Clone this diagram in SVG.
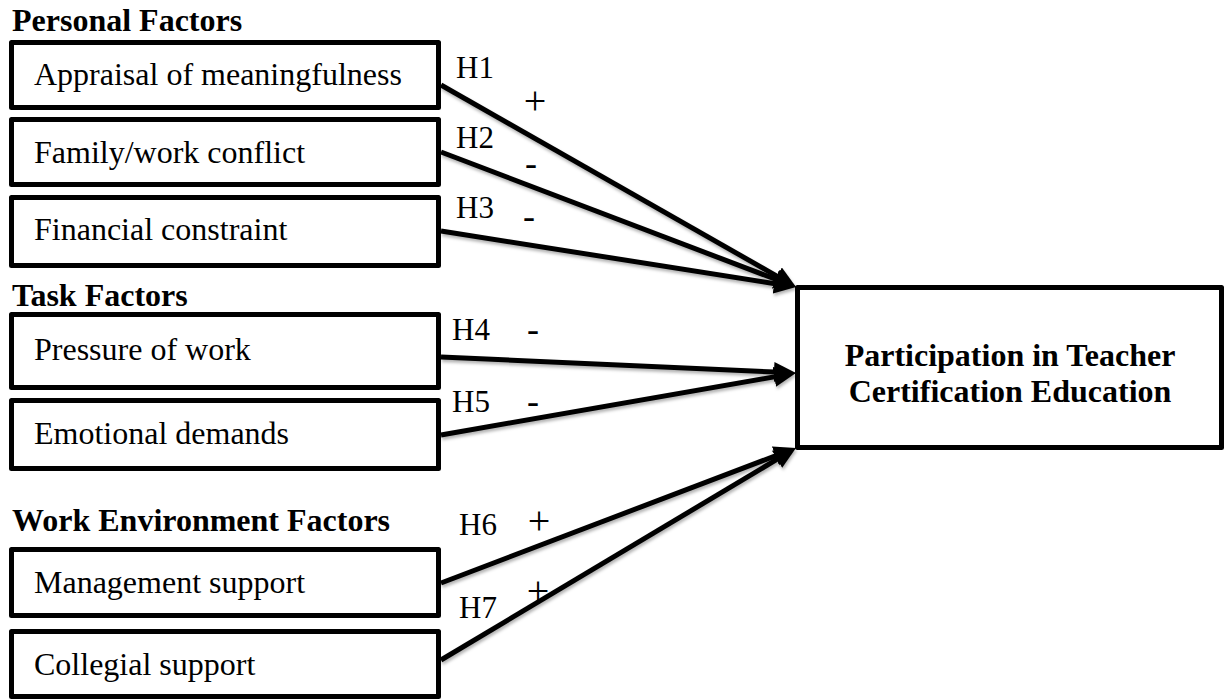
<svg xmlns="http://www.w3.org/2000/svg" width="1225" height="700" viewBox="0 0 1225 700">
  <style>
    text { font-family: "Liberation Serif", "Times New Roman", serif; fill: #000; }
    .head { font-size: 32px; font-weight: bold; }
    .label { font-size: 32px; }
    .hyp { font-size: 31px; }
    .plus { font-size: 40px; text-anchor: middle; }
    .minus { font-size: 36px; text-anchor: middle; }
    .outcome { font-size: 32px; font-weight: bold; text-anchor: middle; }
    .box { fill: #fff; stroke: #000; stroke-width: 5; stroke-linejoin: round; }
    .link { fill: none; stroke: #000; stroke-width: 5; marker-end: url(#arrow); }
  </style>
  <defs>
    <marker id="arrow" markerUnits="userSpaceOnUse" markerWidth="24" markerHeight="22" refX="7" refY="10" orient="auto">
      <path d="M0,0 L22,10 L0,20 z" fill="#000"/>
    </marker>
    <filter id="soft" x="-10%" y="-10%" width="120%" height="130%">
      <feDropShadow dx="1" dy="2.5" stdDeviation="1.6" flood-color="#000" flood-opacity="0.3"/>
    </filter>
  </defs>

  <rect width="1225" height="700" fill="#fff"/>

  <!-- group headings -->
  <text class="head" x="12" y="31">Personal Factors</text>
  <text class="head" x="12" y="306">Task Factors</text>
  <text class="head" x="12" y="531">Work Environment Factors</text>

  <!-- predictor boxes -->
  <g id="appraisal">
    <rect class="box" x="11.5" y="42.5" width="427" height="65"/>
    <text class="label" x="34" y="85">Appraisal of meaningfulness</text>
  </g>
  <g id="family-work">
    <rect class="box" x="11.5" y="119.5" width="427" height="65"/>
    <text class="label" x="34" y="163">Family/work conflict</text>
  </g>
  <g id="financial">
    <rect class="box" x="11.5" y="197.5" width="427" height="68"/>
    <text class="label" x="34" y="240">Financial constraint</text>
  </g>
  <g id="pressure">
    <rect class="box" x="11.5" y="314.5" width="427" height="73"/>
    <text class="label" x="34" y="360">Pressure of work</text>
  </g>
  <g id="emotional">
    <rect class="box" x="11.5" y="400.5" width="427" height="68"/>
    <text class="label" x="34" y="444">Emotional demands</text>
  </g>
  <g id="management">
    <rect class="box" x="11.5" y="549.5" width="427" height="66"/>
    <text class="label" x="34" y="593">Management support</text>
  </g>
  <g id="collegial">
    <rect class="box" x="11.5" y="631.5" width="427" height="65"/>
    <text class="label" x="34" y="675">Collegial support</text>
  </g>

  <!-- outcome box -->
  <g id="participation">
    <rect class="box" x="797.5" y="287.5" width="424" height="160"/>
    <text class="outcome" x="1010" y="366">Participation in Teacher</text>
    <text class="outcome" x="1010" y="402">Certification Education</text>
  </g>

  <!-- hypothesised paths -->
  <g id="connectors" filter="url(#soft)">
    <line class="link" x1="441" y1="85" x2="783.0" y2="279.6"/>
    <line class="link" x1="441" y1="152" x2="782.0" y2="281.7"/>
    <line class="link" x1="441" y1="231" x2="781.2" y2="284.7"/>
    <line class="link" x1="441" y1="357" x2="781.0" y2="372.3"/>
    <line class="link" x1="441" y1="435" x2="781.2" y2="375.6"/>
    <line class="link" x1="441" y1="583" x2="782.0" y2="453.3"/>
    <line class="link" x1="441" y1="660" x2="783.1" y2="455.7"/>
  </g>

  <!-- path labels and expected signs -->
  <g id="path-labels">
    <text class="hyp" x="456" y="78">H1</text>
    <text class="hyp" x="456" y="148">H2</text>
    <text class="hyp" x="456" y="218">H3</text>
    <text class="hyp" x="452" y="340">H4</text>
    <text class="hyp" x="452" y="412">H5</text>
    <text class="hyp" x="459" y="535">H6</text>
    <text class="hyp" x="459" y="618">H7</text>
    <text class="plus" x="535" y="114">+</text>
    <text class="minus" x="531" y="175">-</text>
    <text class="minus" x="529" y="228">-</text>
    <text class="minus" x="533" y="341">-</text>
    <text class="minus" x="533" y="413">-</text>
    <text class="plus" x="539" y="534">+</text>
    <text class="plus" x="538" y="604">+</text>
  </g>
</svg>
